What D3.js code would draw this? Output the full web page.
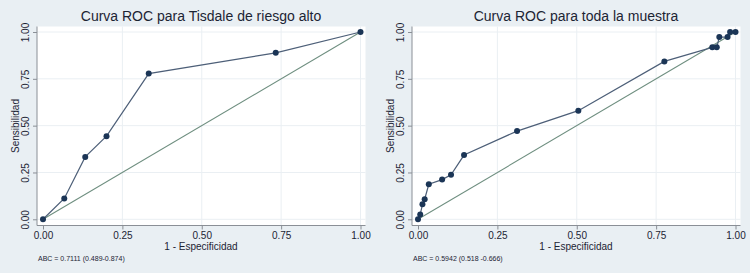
<!DOCTYPE html>
<html>
<head>
<meta charset="utf-8">
<script src="https://cdn.jsdelivr.net/npm/d3@7"></script>
<style>
  body { margin: 0; background: #e9eff3; }
  svg { display: block; }
  text { font-family: "Liberation Sans", Arial, sans-serif; fill: #1c2433; }
</style>
</head>
<body>
<div id="chart"></div>
<script>
// left panel: Tisdale high risk
const leftTitle = 'Curva ROC para Tisdale de riesgo alto'
const leftFpr = [0, 0.067, 0.133, 0.2, 0.333, 0.733, 1]
const leftTpr = [0, 0.111, 0.333, 0.444, 0.778, 0.889, 1]
const leftNote = 'ABC = 0.7111 (0.489-0.874)'

// right panel: whole sample
const rightTitle = 'Curva ROC para toda la muestra'
const rightFpr = [0, 0.007, 0.014, 0.021, 0.034, 0.076, 0.104, 0.145, 0.312, 0.505, 0.776, 0.927, 0.941, 0.949, 0.975, 0.983, 1]
const rightTpr = [0, 0.025, 0.08, 0.107, 0.187, 0.212, 0.238, 0.343, 0.471, 0.58, 0.843, 0.918, 0.918, 0.973, 0.973, 1, 1]
const rightNote = 'ABC = 0.5942 (0.518 -0.666)'

const ticks = [0, 0.25, 0.5, 0.75, 1]
const xLabel = '1 - Especificidad'
const yLabel = 'Sensibilidad'

const W = 750, H = 273
const svg = d3.select('#chart').append('svg')
    .attr('width', W).attr('height', H)

svg.append('rect').attr('width', W).attr('height', H).attr('fill', '#e9eff3')

function drawPanel(offsetX, title, fpr, tpr, note){
    const g = svg.append('g').attr('transform', `translate(${offsetX},0)`)
    const x = d3.scaleLinear().domain([0, 1]).range([43, 360.5])
    const y = d3.scaleLinear().domain([0, 1]).range([219.3, 32])

    // plot area
    g.append('rect')
        .attr('x', 37).attr('y', 26.5)
        .attr('width', 328.5).attr('height', 199)
        .attr('fill', '#ffffff')

    // grid
    g.append('g').selectAll('line.gx')
        .data(ticks.slice(1))
        .join('line')
        .attr('x1', d => x(d)).attr('x2', d => x(d))
        .attr('y1', 26.5).attr('y2', 225.5)
        .attr('stroke', '#eaeff3').attr('stroke-width', 1)
    g.append('g').selectAll('line.gy')
        .data(ticks)
        .join('line')
        .attr('x1', 37).attr('x2', 365.5)
        .attr('y1', d => y(d)).attr('y2', d => y(d))
        .attr('stroke', '#eaeff3').attr('stroke-width', 1)

    // axes
    const xAxis = g.append('g')
        .attr('transform', 'translate(0,225.5)')
        .call(d3.axisBottom(x).tickValues(ticks).tickFormat(d3.format('.2f')).tickSize(4).tickSizeOuter(0))
    xAxis.select('.domain').attr('d', 'M37,0H365.5').attr('stroke', '#8a8f96')
    xAxis.selectAll('.tick line').attr('stroke', '#8a8f96')
    xAxis.selectAll('.tick text')
        .attr('y', 6).attr('dy', '0.71em')
        .style('font-size', '10px')
        .style('font-family', '"Liberation Sans", Arial, sans-serif')
        .attr('fill', '#1c2433')

    const yAxis = g.append('g')
        .attr('transform', 'translate(37,0)')
        .call(d3.axisLeft(y).tickValues(ticks).tickFormat(d3.format('.2f')).tickSize(4).tickSizeOuter(0))
    yAxis.select('.domain').attr('d', 'M0,26.5V225.5').attr('stroke', '#8a8f96')
    yAxis.selectAll('.tick line').attr('stroke', '#8a8f96')
    yAxis.selectAll('.tick text')
        .attr('x', null).attr('dy', null)
        .attr('transform', 'translate(-8,0) rotate(-90)')
        .attr('text-anchor', 'middle')
        .style('font-size', '10px')
        .style('font-family', '"Liberation Sans", Arial, sans-serif')
        .attr('fill', '#1c2433')

    // reference diagonal
    g.append('line')
        .attr('x1', x(0)).attr('y1', y(0))
        .attr('x2', x(1)).attr('y2', y(1))
        .attr('stroke', '#6f8f80').attr('stroke-width', 1.1)

    // ROC curve
    const pts = fpr.map((d, i) => [d, tpr[i]])
    g.append('path')
        .datum(pts)
        .attr('d', d3.line().x(d => x(d[0])).y(d => y(d[1])))
        .attr('fill', 'none')
        .attr('stroke', '#4d5f78')
        .attr('stroke-width', 1.2)
    g.append('g').selectAll('circle')
        .data(pts)
        .join('circle')
        .attr('cx', d => x(d[0])).attr('cy', d => y(d[1]))
        .attr('r', 3)
        .attr('fill', '#1b3556')

    // labels
    g.append('text')
        .attr('x', 201).attr('y', 21)
        .attr('text-anchor', 'middle')
        .style('font-size', '14px')
        .attr('fill', '#26324a')
        .text(title)
    g.append('text')
        .attr('x', 201).attr('y', 250)
        .attr('text-anchor', 'middle')
        .style('font-size', '10px')
        .text(xLabel)
    g.append('text')
        .attr('transform', 'translate(18.5,126) rotate(-90)')
        .attr('text-anchor', 'middle')
        .style('font-size', '10px')
        .text(yLabel)
    g.append('text')
        .attr('x', 38).attr('y', 261)
        .style('font-size', '7px')
        .text(note)
}

drawPanel(0, leftTitle, leftFpr, leftTpr, leftNote)
drawPanel(375, rightTitle, rightFpr, rightTpr, rightNote)
</script>
</body>
</html>
